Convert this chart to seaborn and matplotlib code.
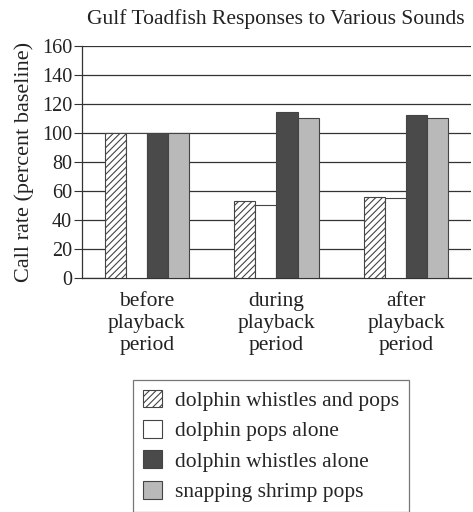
import matplotlib
matplotlib.use("Agg")
import matplotlib.pyplot as plt
import seaborn as sns
import pandas as pd
from matplotlib.patches import Patch

categories = ["before\nplayback\nperiod", "during\nplayback\nperiod", "after\nplayback\nperiod"]
series = ["dolphin whistles and pops", "dolphin pops alone", "dolphin whistles alone", "snapping shrimp pops"]
whistles_and_pops = [100, 53, 56]
pops_alone = [100, 50, 55]
whistles_alone = [100, 114, 112]
shrimp_pops = [100, 110, 110]
yticks = [0, 20, 40, 60, 80, 100, 120, 140, 160]

colors = ["white", "white", "#4a4a4a", "#b9b9b9"]
hatches = ["/////", "", "", ""]

rows = []
for s, vals in zip(series, [whistles_and_pops, pops_alone, whistles_alone, shrimp_pops]):
    for c, v in zip(categories, vals):
        rows.append({"period": c, "sound": s, "rate": v})
df = pd.DataFrame(rows)

sns.set_theme(style="white")
plt.rcParams["font.family"] = ["Liberation Serif", "DejaVu Serif"]
plt.rcParams["hatch.linewidth"] = 0.8
plt.rcParams["hatch.color"] = "#333333"

fig = plt.figure(figsize=(4.73, 5.12), dpi=100)
ax = fig.add_axes([0.173, 0.457, 0.823, 0.454])

sns.barplot(data=df, x="period", y="rate", hue="sound", hue_order=series,
            order=categories, palette=colors, width=0.65, edgecolor="#444444",
            linewidth=0.8, ax=ax, legend=False, zorder=3)

for i, cont in enumerate(ax.containers):
    for p in cont.patches:
        p.set_hatch(hatches[i])
        p.set_zorder(3)

ax.set_ylim(0, 160)
ax.set_yticks(yticks)
ax.set_yticklabels([str(t) for t in yticks], fontsize=14.5, color="#222222")
ax.tick_params(axis="y", left=True, length=6, width=0.8, color="#333333", pad=1)
ax.tick_params(axis="x", bottom=False, labelsize=15.5, labelcolor="#222222", pad=4)
for t in ax.get_xticklabels():
    t.set_linespacing(1.22)
ax.set_xlabel("")
ax.set_ylabel("Call rate (percent baseline)", fontsize=16, color="#222222", labelpad=6)
ax.yaxis.grid(True, color="#333333", linewidth=0.9)
ax.set_axisbelow(True)
for side in ["top", "right"]:
    ax.spines[side].set_visible(False)
for side in ["left", "bottom"]:
    ax.spines[side].set_color("#333333")
    ax.spines[side].set_linewidth(0.9)

fig.text(0.583, 0.963, "Gulf Toadfish Responses to Various Sounds", ha="center",
         va="center", fontsize=15.5, color="#222222")

handles = [Patch(facecolor=c, edgecolor="#444444", hatch=h, linewidth=0.8, label=s)
           for c, h, s in zip(colors, hatches, series)]
leg = fig.legend(handles=handles, loc="upper left", bbox_to_anchor=(0.281, 0.258),
                 frameon=True, fancybox=False, fontsize=15.5, handlelength=0.9,
                 handleheight=0.9, handletextpad=0.6, labelspacing=0.42,
                 borderpad=0.45, borderaxespad=0, edgecolor="#555555")
leg.get_frame().set_linewidth(0.9)

fig.savefig("out.png", dpi=100)
